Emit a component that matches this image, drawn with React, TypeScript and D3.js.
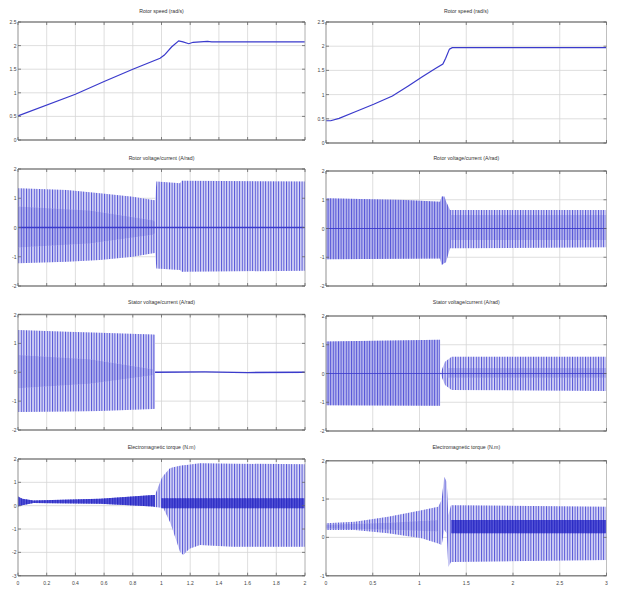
import React from 'react';
import * as d3 from 'd3';

// ---- axis ticks ----
const leftTimeTicks = [0, 0.2, 0.4, 0.6, 0.8, 1, 1.2, 1.4, 1.6, 1.8, 2];
const rightTimeTicks = [0, 0.5, 1, 1.5, 2, 2.5, 3];
const speedTicks = [0, 0.5, 1, 1.5, 2, 2.5];
const voltTicks = [-2, -1, 0, 1, 2];
const torqueLeftTicks = [-3, -2, -1, 0, 1, 2];
const torqueRightTicks = [-1, 0, 1, 2];

const titles = [
  'Rotor speed (rad/s)',
  'Rotor voltage/current (A/rad)',
  'Stator voltage/current (A/rad)',
  'Electromagnetic torque (N.m)',
];

// ---- row 1: speed ----
const speedLT = [0, 0.4, 0.6, 0.8, 0.99, 1.02, 1.07, 1.12, 1.15, 1.19, 1.22, 1.32, 1.35, 2];
const speedLV = [0.51, 0.97, 1.24, 1.5, 1.73, 1.8, 1.97, 2.1, 2.08, 2.04, 2.07, 2.09, 2.08, 2.08];
const speedRT = [0, 0.05, 0.14, 0.32, 0.51, 0.71, 0.88, 1.03, 1.17, 1.25, 1.28, 1.32, 1.35, 3];
const speedRV = [0.46, 0.46, 0.51, 0.65, 0.8, 0.97, 1.18, 1.37, 1.54, 1.63, 1.75, 1.94, 1.97, 1.97];

// ---- row 2: rotor quantities (envelopes) ----
const rotorLT = [0, 0.34, 0.57, 0.8, 0.94, 0.955, 0.965, 1.13, 1.14, 2];
const rotorLHi = [1.34, 1.28, 1.17, 1.05, 0.94, 0.93, 1.57, 1.51, 1.6, 1.57];
const rotorLLo = [-1.22, -1.17, -1.11, -1.0, -0.88, -0.87, -1.4, -1.45, -1.51, -1.48];
const rotorLInT = [0, 0.5, 0.94, 0.955];
const rotorLInHi = [0.72, 0.58, 0.25, 0.2];
const rotorLInLo = [-0.68, -0.55, -0.25, -0.2];

const rotorRPreT = [0, 0.85, 1.22, 1.237, 1.267, 1.283, 1.326];
const rotorRPreHi = [1.05, 0.99, 0.93, 1.11, 1.11, 0.95, 0.64];
const rotorRPreLo = [-1.07, -1.05, -1.04, -1.27, -1.2, -1.17, -0.69];
const rotorRPostT = [1.326, 3];
const rotorRPostHi = [0.64, 0.64];
const rotorRPostLo = [-0.69, -0.65];
const rotorRInT = [1.33, 3];
const rotorRInHi = [0.47, 0.47];
const rotorRInLo = [-0.4, -0.4];

// ---- row 3: stator quantities ----
const statorLT = [0, 0.34, 0.57, 0.94, 0.955];
const statorLHi = [1.46, 1.4, 1.37, 1.31, 1.3];
const statorLLo = [-1.38, -1.36, -1.34, -1.27, -1.26];
const statorLInT = [0, 0.5, 0.94];
const statorLInHi = [0.6, 0.45, 0.1];
const statorLInLo = [-0.55, -0.4, -0.1];
const statorLTailT = [0.955, 1.3, 1.6, 2];
const statorLTailV = [0, 0.01, -0.01, 0];

const statorRPreT = [0, 1.22];
const statorRPreHi = [1.11, 1.17];
const statorRPreLo = [-1.1, -1.12];
const statorRPostT = [1.225, 1.273, 1.344, 3];
const statorRPostHi = [0.02, 0.41, 0.58, 0.58];
const statorRPostLo = [-0.02, -0.4, -0.57, -0.61];
const statorRInT = [1.3, 3];
const statorRInHi = [0.19, 0.19];
const statorRInLo = [-0.15, -0.15];

// ---- row 4: torque ----
const torqueLPreT = [0, 0.03, 0.107, 0.571, 0.943, 0.955];
const torqueLPreHi = [0.39, 0.3, 0.22, 0.3, 0.46, 0.46];
const torqueLPreLo = [-0.04, 0.02, 0.12, 0.08, -0.04, -0.06];
const torqueLT = [0.955, 1.001, 1.013, 1.059, 1.082, 1.129, 1.152, 1.176, 1.199, 1.268, 1.498, 2];
const torqueLHi = [0.46, 1.17, 1.28, 1.6, 1.65, 1.71, 1.73, 1.74, 1.76, 1.82, 1.8, 1.77];
const torqueLLo = [-0.06, -0.09, -0.11, -0.7, -1.11, -1.97, -2.11, -1.95, -1.83, -1.68, -1.76, -1.76];
const torqueLInT = [1.0, 2];
const torqueLInHi = [0.32, 0.32];
const torqueLInLo = [-0.11, -0.11];

const torqueRT = [0, 0.31, 0.666, 1.024, 1.201, 1.237, 1.265, 1.291, 1.308, 1.337, 3];
const torqueRHi = [0.37, 0.41, 0.54, 0.71, 0.8, 0.98, 1.58, 1.45, 0.58, 0.84, 0.8];
const torqueRLo = [0.19, 0.19, 0.11, -0.02, -0.16, -0.2, 0.2, 0.1, -0.77, -0.64, -0.59];
const torqueRPreInT = [0, 0.666, 1.2];
const torqueRPreInHi = [0.33, 0.38, 0.45];
const torqueRPreInLo = [0.23, 0.2, 0.15];
const torqueRInT = [1.34, 3];
const torqueRInHi = [0.45, 0.45];
const torqueRInLo = [0.11, 0.11];

type Band = { t: number[]; hi: number[]; lo: number[]; kind: 'osc' | 'dense' | 'core' };
type Line = { t: number[]; v: number[]; w?: number };

type PanelCfg = {
  x0: number; x1: number; y0: number; y1: number;
  xDomain: [number, number]; xTicks: number[];
  yDomain: [number, number]; yTicks: number[];
  title: string; titleY: number;
  bands: Band[]; lines: Line[];
  xLabels?: boolean;
};

const L = { x0: 18, x1: 305 };
const R = { x0: 326, x1: 606.5 };

const panels: PanelCfg[] = [
  { ...L, y0: 22, y1: 140, xDomain: [0, 2], xTicks: leftTimeTicks, yDomain: [0, 2.5], yTicks: speedTicks,
    title: titles[0], titleY: 13, bands: [], lines: [{ t: speedLT, v: speedLV }] },
  { ...R, y0: 22, y1: 143, xDomain: [0, 3], xTicks: rightTimeTicks, yDomain: [0, 2.5], yTicks: speedTicks,
    title: titles[0], titleY: 13, bands: [], lines: [{ t: speedRT, v: speedRV }] },
  { ...L, y0: 169, y1: 286, xDomain: [0, 2], xTicks: leftTimeTicks, yDomain: [-2, 2], yTicks: voltTicks,
    title: titles[1], titleY: 160,
    bands: [
      { t: rotorLT, hi: rotorLHi, lo: rotorLLo, kind: 'osc' },
      { t: rotorLInT, hi: rotorLInHi, lo: rotorLInLo, kind: 'dense' },
    ],
    lines: [{ t: [0, 2], v: [0, 0], w: 1.4 }] },
  { ...R, y0: 171, y1: 286, xDomain: [0, 3], xTicks: rightTimeTicks, yDomain: [-2, 2], yTicks: voltTicks,
    title: titles[1], titleY: 160,
    bands: [
      { t: rotorRPreT, hi: rotorRPreHi, lo: rotorRPreLo, kind: 'dense' },
      { t: rotorRPostT, hi: rotorRPostHi, lo: rotorRPostLo, kind: 'osc' },
      { t: rotorRInT, hi: rotorRInHi, lo: rotorRInLo, kind: 'dense' },
    ],
    lines: [{ t: [0, 3], v: [0, 0], w: 0.9 }] },
  { ...L, y0: 314.5, y1: 430, xDomain: [0, 2], xTicks: leftTimeTicks, yDomain: [-2, 2], yTicks: voltTicks,
    title: titles[2], titleY: 304,
    bands: [
      { t: statorLT, hi: statorLHi, lo: statorLLo, kind: 'osc' },
      { t: statorLInT, hi: statorLInHi, lo: statorLInLo, kind: 'dense' },
    ],
    lines: [{ t: statorLTailT, v: statorLTailV, w: 1.3 }] },
  { ...R, y0: 316, y1: 431, xDomain: [0, 3], xTicks: rightTimeTicks, yDomain: [-2, 2], yTicks: voltTicks,
    title: titles[2], titleY: 304,
    bands: [
      { t: statorRPreT, hi: statorRPreHi, lo: statorRPreLo, kind: 'dense' },
      { t: statorRPostT, hi: statorRPostHi, lo: statorRPostLo, kind: 'osc' },
      { t: statorRInT, hi: statorRInHi, lo: statorRInLo, kind: 'dense' },
    ],
    lines: [{ t: [0, 3], v: [0, 0], w: 0.8 }] },
  { ...L, y0: 459, y1: 575.7, xDomain: [0, 2], xTicks: leftTimeTicks, yDomain: [-3, 2], yTicks: torqueLeftTicks,
    title: titles[3], titleY: 449, xLabels: true,
    bands: [
      { t: torqueLPreT, hi: torqueLPreHi, lo: torqueLPreLo, kind: 'core' },
      { t: torqueLT, hi: torqueLHi, lo: torqueLLo, kind: 'osc' },
      { t: torqueLInT, hi: torqueLInHi, lo: torqueLInLo, kind: 'core' },
    ],
    lines: [] },
  { ...R, y0: 460.7, y1: 575.7, xDomain: [0, 3], xTicks: rightTimeTicks, yDomain: [-1, 2], yTicks: torqueRightTicks,
    title: titles[3], titleY: 449, xLabels: true,
    bands: [
      { t: torqueRT, hi: torqueRHi, lo: torqueRLo, kind: 'osc' },
      { t: torqueRPreInT, hi: torqueRPreInHi, lo: torqueRPreInLo, kind: 'dense' },
      { t: torqueRInT, hi: torqueRInHi, lo: torqueRInLo, kind: 'core' },
    ],
    lines: [] },
];

const fmt = (v: number) => String(v);

const bandFill = { osc: '#dadaf7', dense: '#b8b8ee', core: '#4a4ad4' };

function Panel({ p }: { p: PanelCfg }) {
  const x = d3.scaleLinear().domain(p.xDomain).range([p.x0, p.x1]);
  const y = d3.scaleLinear().domain(p.yDomain).range([p.y1, p.y0]);
  const area = (b: Band) =>
    d3.area<number>()
      .x((_, i) => x(b.t[i]))
      .y0((_, i) => y(b.lo[i]))
      .y1((_, i) => y(b.hi[i]))(b.t) || '';
  const line = (l: Line) =>
    d3.line<number>()
      .x((_, i) => x(l.t[i]))
      .y((_, i) => y(l.v[i]))(l.t) || '';
  const cx = (p.x0 + p.x1) / 2;
  return (
    <g>
      <text x={cx} y={p.titleY} fontSize={5.2} textAnchor="middle" fill="#333" fontFamily="Liberation Sans Narrow, Liberation Sans, Arial">
        {p.title}
      </text>
      <rect x={p.x0} y={p.y0} width={p.x1 - p.x0} height={p.y1 - p.y0} fill="#fff" />
      {p.xTicks.map(t => (
        <line key={'gx' + t} x1={x(t)} x2={x(t)} y1={p.y0} y2={p.y1} stroke="#d6d6d6" strokeWidth={0.8} />
      ))}
      {p.yTicks.map(v => (
        <line key={'gy' + v} x1={p.x0} x2={p.x1} y1={y(v)} y2={y(v)} stroke="#d6d6d6" strokeWidth={0.8} />
      ))}
      <g filter="url(#soft)">
        {p.bands.map((b, i) => (
          <g key={'b' + i}>
            <path d={area(b)} fill={bandFill[b.kind]} opacity={b.kind === 'core' ? 0.9 : 1} />
            <path d={area(b)} fill={b.kind === 'core' ? 'url(#oscCore)' : 'url(#osc)'} />
          </g>
        ))}
        {p.lines.map((l, i) => (
          <path key={'l' + i} d={line(l)} fill="none" stroke="#3a3acc" strokeWidth={l.w ?? 1.2} />
        ))}
      </g>
      {/* frame */}
      <line x1={p.x0} x2={p.x0} y1={p.y0} y2={p.y1} stroke="#999" strokeWidth={0.9} />
      <line x1={p.x1} x2={p.x1} y1={p.y0} y2={p.y1} stroke="#bbb" strokeWidth={0.9} />
      <line x1={p.x0} x2={p.x1} y1={p.y0} y2={p.y0} stroke="#888" strokeWidth={1.6} />
      <line x1={p.x0} x2={p.x1} y1={p.y1} y2={p.y1} stroke="#888" strokeWidth={1.6} />
      {p.yTicks.map(v => (
        <g key={'ty' + v}>
          <line x1={p.x0} x2={p.x0 + 3} y1={y(v)} y2={y(v)} stroke="#666" strokeWidth={0.8} />
          <line x1={p.x1 - 3} x2={p.x1} y1={y(v)} y2={y(v)} stroke="#666" strokeWidth={0.8} />
          <text x={p.x0 - 1.5} y={y(v) + 2} fontSize={5} textAnchor="end" fill="#444" fontFamily="Liberation Sans, Arial">
            {fmt(v)}
          </text>
        </g>
      ))}
      {p.xTicks.map(t => (
        <g key={'tx' + t}>
          <line x1={x(t)} x2={x(t)} y1={p.y1} y2={p.y1 - 3} stroke="#666" strokeWidth={0.8} />
          <line x1={x(t)} x2={x(t)} y1={p.y0} y2={p.y0 + 3} stroke="#666" strokeWidth={0.8} />
          {p.xLabels && (
            <text x={x(t)} y={p.y1 + 9} fontSize={5} textAnchor="middle" fill="#444" fontFamily="Liberation Sans, Arial">
              {fmt(t)}
            </text>
          )}
        </g>
      ))}
    </g>
  );
}

export default function App() {
  return (
    <svg width={617} height={589} style={{ position: 'absolute', left: 0, top: 0, background: '#fff' }}>
      <defs>
        <pattern id="osc" width={2.6} height={4} patternUnits="userSpaceOnUse">
          <rect x={0} y={0} width={1} height={4} fill="#5252d6" />
        </pattern>
        <pattern id="oscCore" width={2.6} height={4} patternUnits="userSpaceOnUse">
          <rect x={0} y={0} width={1.3} height={4} fill="#2a2ac4" />
        </pattern>
        <filter id="soft" x="-2%" y="-2%" width="104%" height="104%">
          <feGaussianBlur stdDeviation={0.35} />
        </filter>
      </defs>
      <rect width={617} height={589} fill="#fff" />
      {panels.map((p, i) => (
        <Panel key={i} p={p} />
      ))}
    </svg>
  );
}
